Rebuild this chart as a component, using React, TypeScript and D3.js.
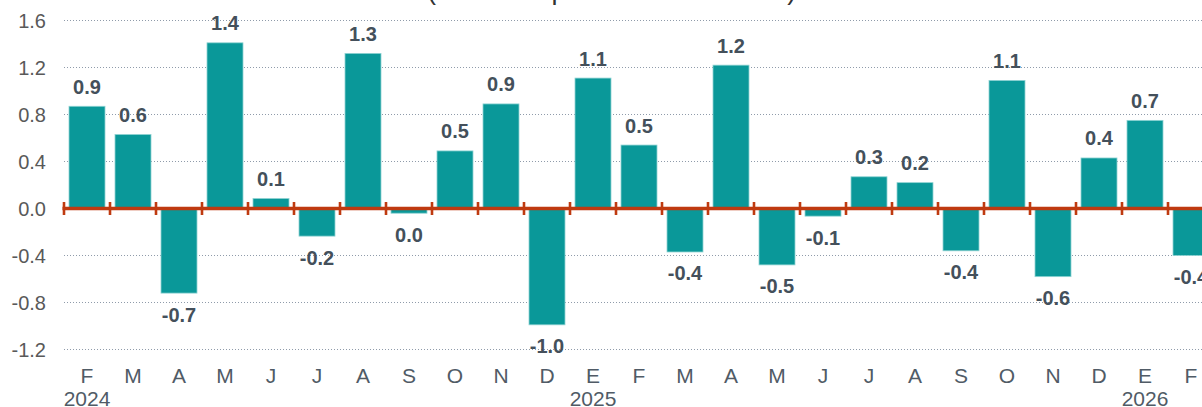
import React from "react";
import * as d3 from "d3";

const months = ["F","M","A","M","J","J","A","S","O","N","D","E","F","M","A","M","J","J","A","S","O","N","D","E","F"];
const yearLabels: { index: number; label: string }[] = [
  { index: 0, label: "2024" },
  { index: 11, label: "2025" },
  { index: 23, label: "2026" },
];
const values = [0.87, 0.63, -0.72, 1.41, 0.085, -0.235, 1.32, -0.04, 0.49, 0.89, -0.99, 1.11, 0.54, -0.37, 1.22, -0.48, -0.065, 0.27, 0.22, -0.36, 1.09, -0.58, 0.43, 0.75, -0.40];
const valueLabels = ["0.9","0.6","-0.7","1.4","0.1","-0.2","1.3","0.0","0.5","0.9","-1.0","1.1","0.5","-0.4","1.2","-0.5","-0.1","0.3","0.2","-0.4","1.1","-0.6","0.4","0.7","-0.4"];
const yTicks = [1.6, 1.2, 0.8, 0.4, 0.0, -0.4, -0.8, -1.2];
const title = "(variación porcentual mensual)";

const W = 1202;
const H = 407;

export default function App() {
  const step = 46;
  const x0 = 64;
  const x = d3
    .scaleBand<number>()
    .domain(d3.range(months.length))
    .range([x0, x0 + step * months.length])
    .paddingInner(10 / 46)
    .paddingOuter(5 / 46);
  const y = d3.scaleLinear().domain([-1.2, 1.6]).range([349.5, 20.5]);
  const font = "'Liberation Sans', Arial, sans-serif";
  const bandStart = (i: number) => x0 + i * step;

  return (
    <div style={{ position: "absolute", left: 0, top: 0 }}>
      <svg width={W} height={H} style={{ display: "block", fontFamily: font }}>
        <rect x={0} y={0} width={W} height={H} fill="#ffffff" />
        <text x={427} y={-1} fontSize={27} fill="#333" textAnchor="start">{title}</text>
        {yTicks.filter((t) => t !== 0).map((t) => (
          <line key={"g" + t} x1={x0} x2={W} y1={y(t)} y2={y(t)} stroke="#8f9baa" strokeWidth={1} strokeDasharray="1 2" />
        ))}
        {yTicks.map((t) => (
          <text key={"t" + t} x={46} y={y(t)} dy="0.36em" textAnchor="end" fontSize={20} fill="#595959">
            {t.toFixed(1)}
          </text>
        ))}
        {values.map((v, i) => (
          <rect
            key={"b" + i}
            x={x(i)!}
            y={Math.min(y(v), y(0))}
            width={x.bandwidth()}
            height={Math.abs(y(v) - y(0))}
            fill="#0a9899"
            stroke="#8fd3d3"
            strokeWidth={0.8}
          />
        ))}
        <line x1={62.5} x2={W} y1={y(0)} y2={y(0)} stroke="#bf3a10" strokeWidth={3.5} />
        {d3.range(months.length + 1).map((i) => (
          <line key={"tk" + i} x1={bandStart(i)} x2={bandStart(i)} y1={y(0) - 6.5} y2={y(0) + 6.5} stroke="#bf3a10" strokeWidth={2.6} />
        ))}
        {values.map((v, i) => (
          <text
            key={"l" + i}
            x={x(i)! + x.bandwidth() / 2}
            y={v >= 0 ? y(v) - 12.5 : y(v) + 28.5}
            textAnchor="middle"
            fontSize={20}
            fontWeight="bold"
            fill="#44505b"
          >
            {valueLabels[i]}
          </text>
        ))}
        {months.map((m, i) => (
          <text key={"m" + i} x={bandStart(i) + step / 2} y={382.5} textAnchor="middle" fontSize={21} fill="#505b66">
            {m}
          </text>
        ))}
        {yearLabels.map((yl) => (
          <text key={"y" + yl.label} x={bandStart(yl.index) + step / 2} y={406} textAnchor="middle" fontSize={21} fill="#505b66">
            {yl.label}
          </text>
        ))}
      </svg>
    </div>
  );
}
